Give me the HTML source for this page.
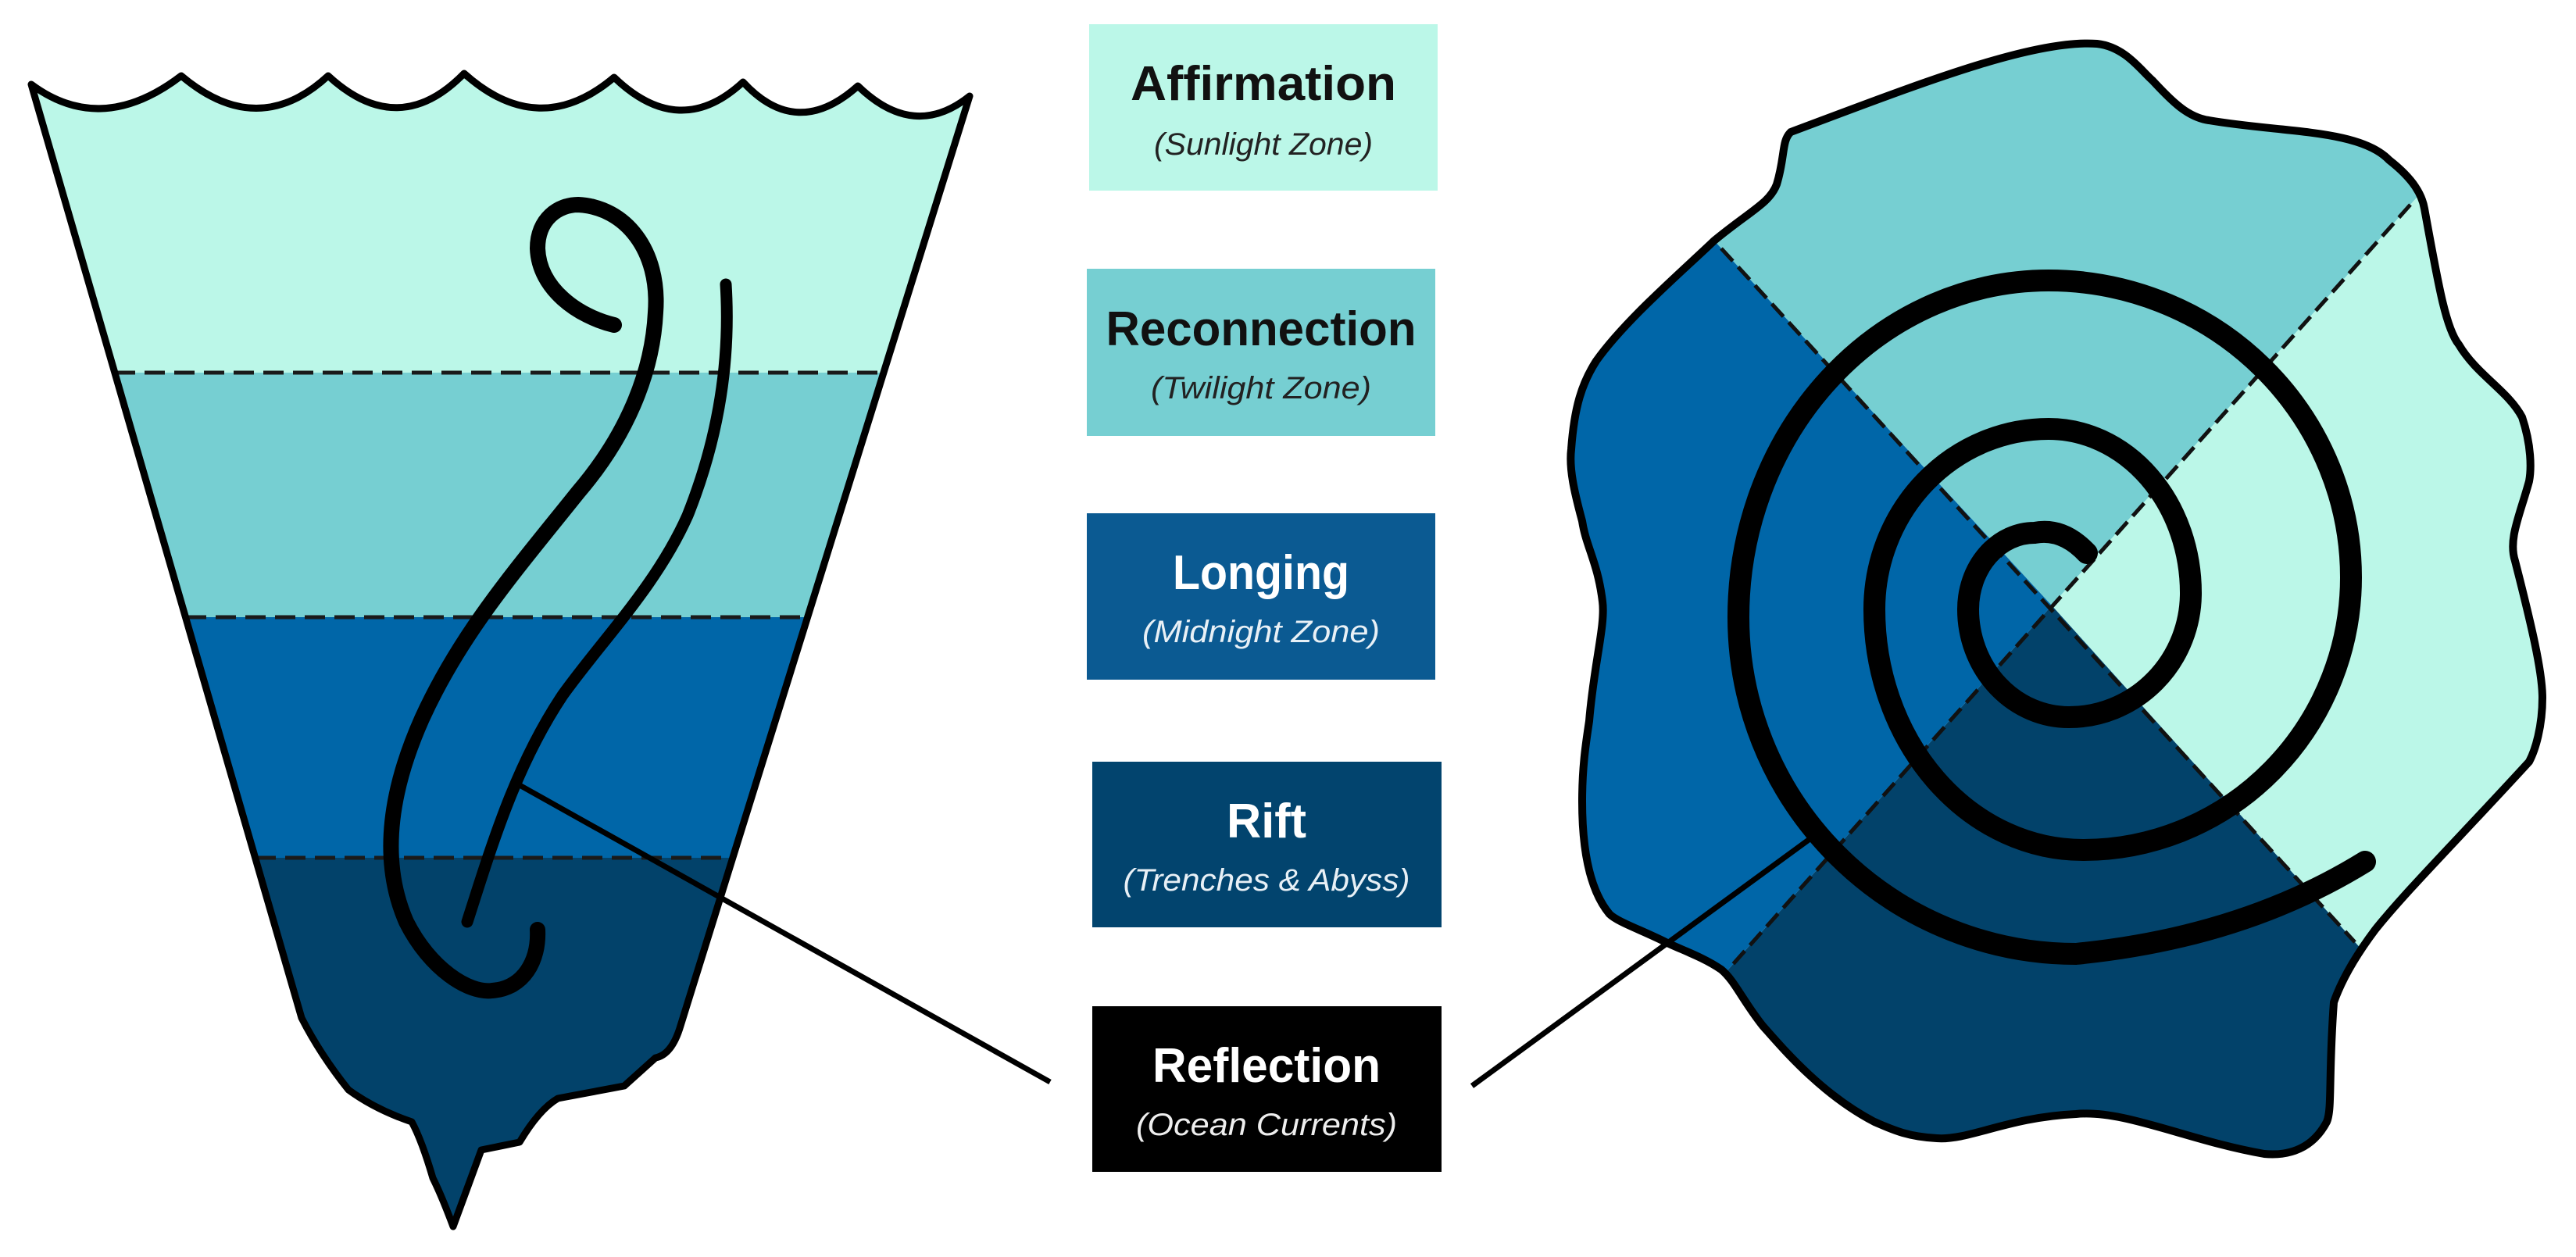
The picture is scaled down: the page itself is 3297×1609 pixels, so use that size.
<!DOCTYPE html>
<html><head><meta charset="utf-8"><style>
html,body{margin:0;padding:0;background:#fff;width:3297px;height:1609px;overflow:hidden;}
svg{display:block;position:absolute;left:0;top:0;}
.t{font-family:"Liberation Sans",sans-serif;font-weight:bold;font-size:62px;text-anchor:middle;}
.s{font-family:"Liberation Sans",sans-serif;font-style:italic;font-size:40px;text-anchor:middle;}
</style></head><body>
<svg width="3297" height="1609" viewBox="0 0 3297 1609" xmlns="http://www.w3.org/2000/svg">
<defs>
<clipPath id="funnel">
<path d="M40,108 Q130,175 232,97 Q330,180 420,97 Q510,180 594,94 Q690,180 786,99 Q870,180 951,105 Q1020,180 1098,110 Q1170,180 1241,123 L871,1313 Q860,1350 839,1354 L799,1390 L714,1406 Q690,1420 665,1462 L616,1472 L580,1570 Q565,1530 554,1508 Q540,1460 527,1436 Q480,1420 446,1395 Q410,1350 386,1303 Z"/>
</clipPath>
<clipPath id="blob">
<path id="blobp" d="M2292,169 C2450,110 2600,50 2684,56 C2720,60 2740,90 2755,103 C2780,130 2800,150 2827,154 C2920,170 3020,165 3058,205 C3090,230 3100,250 3103,267 C3120,360 3130,420 3147,441 C3170,480 3210,500 3228,534 C3240,570 3240,600 3237,616 C3225,660 3210,690 3219,718 C3240,800 3254,860 3254,893 C3254,930 3245,960 3237,975 C3150,1070 3080,1140 3040,1190 C3010,1230 2995,1260 2987,1283 C2980,1380 2985,1420 2978,1436 C2960,1470 2930,1480 2898,1477 C2800,1460 2720,1420 2657,1426 C2570,1430 2520,1460 2479,1457 C2440,1455 2420,1445 2399,1436 C2330,1400 2280,1340 2256,1313 C2230,1280 2220,1255 2203,1241 C2180,1225 2150,1215 2132,1206 C2100,1190 2070,1180 2060,1170 C2035,1140 2025,1090 2025,1026 C2025,980 2030,950 2034,923 C2040,850 2055,800 2051,770 C2045,720 2030,700 2025,667 C2015,630 2008,600 2011,575 C2015,520 2025,490 2043,462 C2080,410 2150,350 2194,308 C2240,270 2265,260 2274,236 C2285,200 2280,180 2292,169 Z"/>
</clipPath>
</defs>

<g clip-path="url(#funnel)">
<rect x="0" y="0" width="1400" height="477" fill="#bbf7e8"/>
<rect x="0" y="477" width="1400" height="313" fill="#76cfd2"/>
<rect x="0" y="790" width="1400" height="308" fill="#0066a8"/>
<rect x="0" y="1098" width="1400" height="500" fill="#02426a"/>
</g>
<g stroke="#1a1a1a" stroke-width="5" stroke-dasharray="26,12" fill="none">
<line x1="147" y1="477" x2="1131" y2="477"/>
<line x1="238" y1="790" x2="1034" y2="790"/>
<line x1="327" y1="1098" x2="938" y2="1098"/>
</g>
<path d="M40,108 Q130,175 232,97 Q330,180 420,97 Q510,180 594,94 Q690,180 786,99 Q870,180 951,105 Q1020,180 1098,110 Q1170,180 1241,123 L871,1313 Q860,1350 839,1354 L799,1390 L714,1406 Q690,1420 665,1462 L616,1472 L580,1570 Q565,1530 554,1508 Q540,1460 527,1436 Q480,1420 446,1395 Q410,1350 386,1303 Z" fill="none" stroke="#000" stroke-width="9" stroke-linejoin="round"/>

<path d="M786,416 C740,405 690,370 688,318 C688,280 715,262 740,262 C800,265 845,320 839,400 C835,480 800,560 740,630 C660,730 590,810 540,920 C500,1010 485,1100 520,1180 C550,1240 600,1272 630,1268 C670,1265 690,1230 688,1190" fill="none" stroke="#000" stroke-width="20" stroke-linecap="round"/>
<path d="M929,364 C935,460 920,560 880,660 C840,750 770,820 720,890 C660,980 630,1080 598,1180" fill="none" stroke="#000" stroke-width="15" stroke-linecap="round"/>
<line x1="665" y1="1005" x2="1344" y2="1385" stroke="#000" stroke-width="7"/>

<rect x="1394" y="31" width="446" height="213" fill="#bbf7e8"/>
<text class="t" x="1617" y="128" fill="#111" textLength="340" lengthAdjust="spacingAndGlyphs">Affirmation</text>
<text class="s" x="1617" y="198" fill="#222" textLength="280" lengthAdjust="spacingAndGlyphs">(Sunlight Zone)</text>

<rect x="1391" y="344" width="446" height="214" fill="#76cfd2"/>
<text class="t" x="1614" y="442" fill="#111" textLength="397" lengthAdjust="spacingAndGlyphs">Reconnection</text>
<text class="s" x="1614" y="510" fill="#222" textLength="282" lengthAdjust="spacingAndGlyphs">(Twilight Zone)</text>

<rect x="1391" y="657" width="446" height="213" fill="#0b5a92"/>
<text class="t" x="1614" y="754" fill="#fff" textLength="226" lengthAdjust="spacingAndGlyphs">Longing</text>
<text class="s" x="1614" y="822" fill="#e8f0f6" textLength="304" lengthAdjust="spacingAndGlyphs">(Midnight Zone)</text>

<rect x="1398" y="975" width="447" height="212" fill="#02446e"/>
<text class="t" x="1621" y="1072" fill="#fff" textLength="102" lengthAdjust="spacingAndGlyphs">Rift</text>
<text class="s" x="1621" y="1140" fill="#e8f0f6" textLength="367" lengthAdjust="spacingAndGlyphs">(Trenches &amp; Abyss)</text>

<rect x="1398" y="1288" width="447" height="212" fill="#000"/>
<text class="t" x="1621" y="1385" fill="#fff" textLength="292" lengthAdjust="spacingAndGlyphs">Reflection</text>
<text class="s" x="1621" y="1453" fill="#eee" textLength="334" lengthAdjust="spacingAndGlyphs">(Ocean Currents)</text>

<g clip-path="url(#blob)">
<polygon points="2626,775 1909,0 3297,0 3297,25" fill="#76cfd2"/>
<polygon points="2626,775 3297,25 3297,1520" fill="#bbf7e8"/>
<polygon points="2626,775 3297,1520 3297,1600 1893,1600" fill="#02426a"/>
<polygon points="2626,775 1893,1600 1890,0 1909,0" fill="#0066a8"/>
</g>
<g stroke="#111" stroke-width="5" stroke-dasharray="22,10" fill="none">
<line x1="2203" y1="318" x2="3014" y2="1206"/>
<line x1="3085" y1="262" x2="2212" y2="1241"/>
</g>
<use href="#blobp" fill="none" stroke="#000" stroke-width="10"/>
<path d="M2671,708 Q2640,675 2604,682 A85,98 0 0 0 2519,780 A129,138 0 0 0 2648,918 A156,159 0 0 0 2804,759 A182,210 0 0 0 2622,549 A223,231 0 0 0 2399,780 A267,308 0 0 0 2666,1088 A343,349 0 0 0 3009,739 A387,380 0 0 0 2622,359 A397,431 0 0 0 2225,790 A432,431 0 0 0 2657,1221 Q2870,1200 3027,1103" fill="none" stroke="#000" stroke-width="28" stroke-linecap="round"/>
<line x1="1884" y1="1390" x2="2319" y2="1072" stroke="#000" stroke-width="7"/>
</svg>
</body></html>
